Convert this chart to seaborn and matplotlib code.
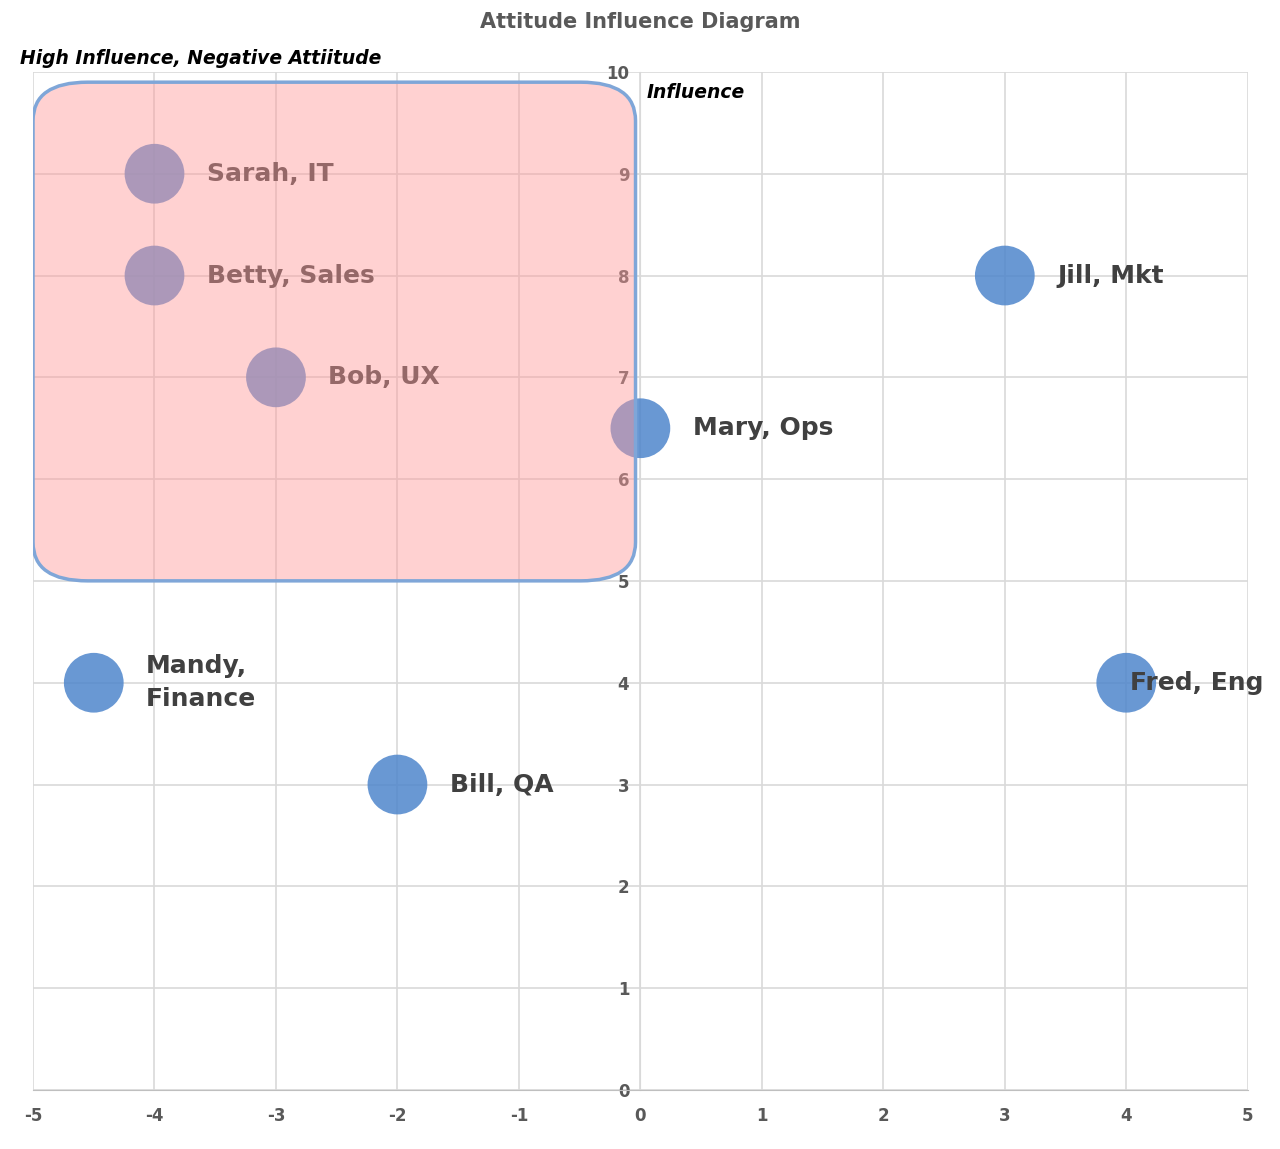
import matplotlib
matplotlib.use("Agg")
import matplotlib.pyplot as plt
import seaborn as sns
import pandas as pd
from matplotlib.patches import FancyBboxPatch

plt.rcParams["axes.unicode_minus"] = False

names = ["Sarah, IT", "Betty, Sales", "Bob, UX", "Mary, Ops", "Jill, Mkt", "Fred, Eng", "Mandy,\nFinance", "Bill, QA"]
attitude = [-4, -4, -3, 0, 3, 4, -4.5, -2]
influence = [9, 8, 7, 6.5, 8, 4, 4, 3]
label_dx = [0.43, 0.43, 0.43, 0.43, 0.43, 0.03, 0.43, 0.43]
xticks = [-5, -4, -3, -2, -1, 0, 1, 2, 3, 4, 5]
yticks = list(range(0, 11))

df = pd.DataFrame({"attitude": attitude, "influence": influence, "name": names})

fig = plt.figure(figsize=(12.8, 11.49), dpi=100)
ax = fig.add_axes([0.0258, 0.0514, 0.949, 0.886])
sns.scatterplot(data=df, x="attitude", y="influence", s=1850, color="#4f86cc",
                alpha=0.85, edgecolor="none", ax=ax, zorder=3)
for x, y, n, dx in zip(attitude, influence, names, label_dx):
    ax.text(x + dx, y, n, fontsize=18, fontweight="bold", color="#404040",
            va="center", ha="left", zorder=3.5, linespacing=1.45)

box = dict(boxstyle="round,pad=0.38,rounding_size=0.45", mutation_aspect=0.84)
rect = FancyBboxPatch((-4.62, 5.32), 4.2, 4.26, facecolor="#ff9a9a", alpha=0.45,
                      edgecolor="none", zorder=4, **box)
ax.add_patch(rect)
rect2 = FancyBboxPatch((-4.62, 5.32), 4.2, 4.26, facecolor="none",
                       edgecolor="#7fa6d8", lw=2.5, zorder=6, **box)
ax.add_patch(rect2)

ax.set_xlim(-5, 5)
ax.set_ylim(0, 10)
ax.set_xticks(xticks)
ax.set_yticks(yticks)
ax.grid(True, color="#d9d9d9", lw=1.2, zorder=0)
ax.set_axisbelow(True)
ax.spines["left"].set_position(("data", 0))
for s in ["top", "right"]:
    ax.spines[s].set_visible(False)
ax.spines["left"].set_color("#d9d9d9")
ax.spines["bottom"].set_color("#bfbfbf")
ax.tick_params(axis="both", length=0, labelsize=12, labelcolor="#595959", pad=12)
for lbl in ax.get_xticklabels() + ax.get_yticklabels():
    lbl.set_fontweight("bold")
    lbl.set_zorder(7)
ax.tick_params(axis="y", pad=8)
ax.set_xlabel("")
ax.set_ylabel("")

fig.text(0.5, 0.981, "Attitude Influence Diagram", ha="center", va="center",
         fontsize=15, fontweight="bold", color="#595959")
fig.text(0.016, 0.949, "High Influence, Negative Attiitude", ha="left", va="center",
         fontsize=13.5, fontweight="bold", style="italic", color="black")
ax.text(0.05, 9.8, "Influence", ha="left", va="center", fontsize=13.5,
        fontweight="bold", style="italic", color="black")

fig.savefig("out.png", dpi=100)
